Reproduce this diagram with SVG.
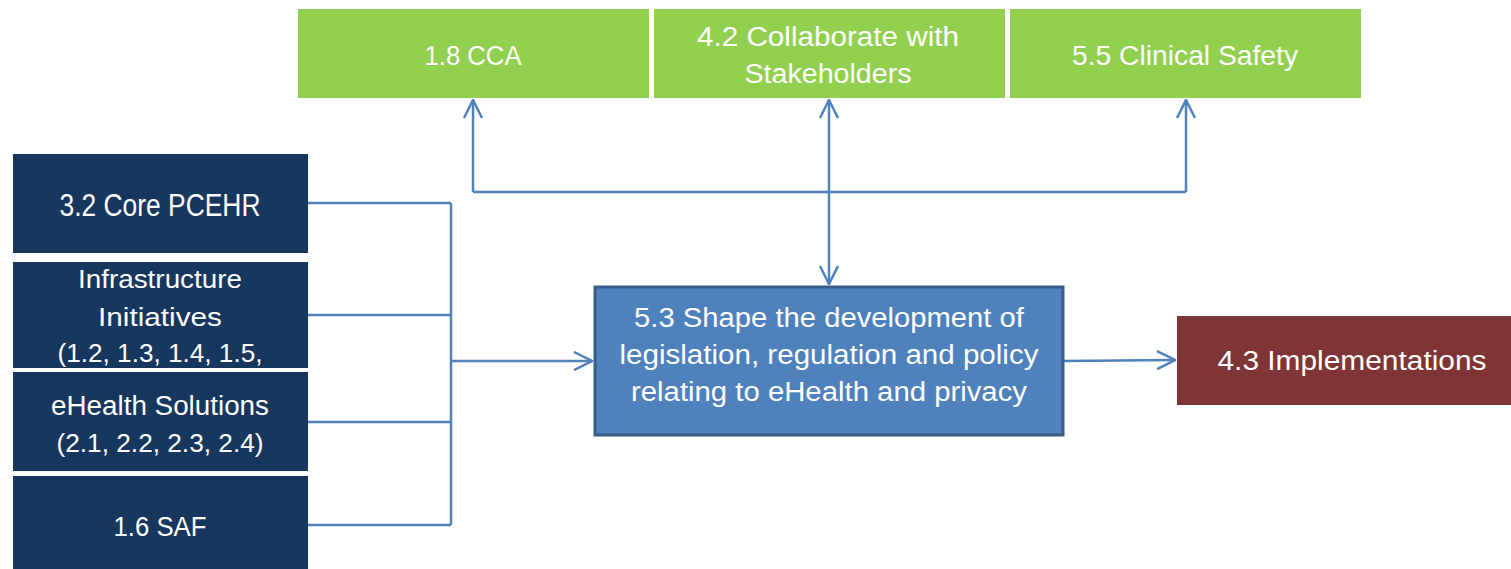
<svg xmlns="http://www.w3.org/2000/svg" width="1511" height="569" viewBox="0 0 1511 569">
<style>
.t{font-family:"Liberation Sans",Arial,sans-serif;fill:#ffffff;text-anchor:middle}
.g{fill:#92D050}
.n{fill:#17375E}
.c{fill:none;stroke:#4F81BD;stroke-width:2.5}
</style>
<defs>
<marker id="ah" viewBox="0 0 20 20" refX="19" refY="10" markerWidth="20" markerHeight="20" markerUnits="userSpaceOnUse" orient="auto-start-reverse">
<path d="M1,1 L19,10 L1,19" fill="none" stroke="#4F81BD" stroke-width="2.5"/>
</marker>
<clipPath id="clipInfra"><rect x="13" y="262" width="295" height="106"/></clipPath>
</defs>
<rect width="1511" height="569" fill="#ffffff"/>

<g id="connectors">
<path class="c" d="M308,203 H451 M308,315 H451 M308,422 H451 M308,525 H451 M451,203 V525"/>
<path class="c" d="M451,361 H592" marker-end="url(#ah)"/>
<path class="c" d="M473,192 H1186"/>
<path class="c" d="M473,192 V100" marker-end="url(#ah)"/>
<path class="c" d="M1186,192 V100" marker-end="url(#ah)"/>
<path class="c" d="M829,100 V284" marker-start="url(#ah)" marker-end="url(#ah)"/>
<path class="c" d="M1064,361 L1175,360" marker-end="url(#ah)"/>
</g>

<g id="cca">
<rect class="g" x="298" y="9" width="351" height="89"/>
<text class="t" x="473" y="65" font-size="27" textLength="97" lengthAdjust="spacingAndGlyphs">1.8 CCA</text>
</g>
<g id="collaborate">
<rect class="g" x="654" y="9" width="351" height="89"/>
<text class="t" x="828" y="46" font-size="27" textLength="262" lengthAdjust="spacingAndGlyphs">4.2 Collaborate with</text>
<text class="t" x="828" y="83" font-size="27" textLength="167" lengthAdjust="spacingAndGlyphs">Stakeholders</text>
</g>
<g id="safety">
<rect class="g" x="1010" y="9" width="351" height="89"/>
<text class="t" x="1185" y="65" font-size="27" textLength="226" lengthAdjust="spacingAndGlyphs">5.5 Clinical Safety</text>
</g>

<g id="core">
<rect class="n" x="13" y="154" width="295" height="99"/>
<text class="t" x="160" y="216" font-size="31" textLength="201" lengthAdjust="spacingAndGlyphs">3.2 Core PCEHR</text>
</g>
<g id="infra">
<rect class="n" x="13" y="262" width="295" height="106"/>
<g clip-path="url(#clipInfra)">
<text class="t" x="160" y="288" font-size="25" textLength="164" lengthAdjust="spacingAndGlyphs">Infrastructure</text>
<text class="t" x="160" y="326" font-size="25" textLength="124" lengthAdjust="spacingAndGlyphs">Initiatives</text>
<text class="t" x="160" y="362" font-size="25" textLength="205" lengthAdjust="spacingAndGlyphs">(1.2, 1.3, 1.4, 1.5,</text>
</g>
</g>
<g id="ehealth">
<rect class="n" x="13" y="372" width="295" height="99"/>
<text class="t" x="160" y="415" font-size="27" textLength="218" lengthAdjust="spacingAndGlyphs">eHealth Solutions</text>
<text class="t" x="160" y="452" font-size="25" textLength="207" lengthAdjust="spacingAndGlyphs">(2.1, 2.2, 2.3, 2.4)</text>
</g>
<g id="saf">
<rect class="n" x="13" y="476" width="295" height="93"/>
<text class="t" x="160" y="536" font-size="27" textLength="93" lengthAdjust="spacingAndGlyphs">1.6 SAF</text>
</g>

<g id="shape">
<rect x="595" y="287" width="468" height="148" fill="#4F81BD" stroke="#385D8A" stroke-width="3"/>
<text class="t" x="829" y="327" font-size="27" textLength="390" lengthAdjust="spacingAndGlyphs">5.3 Shape the development of</text>
<text class="t" x="829" y="364" font-size="27" textLength="419" lengthAdjust="spacingAndGlyphs">legislation, regulation and policy</text>
<text class="t" x="829" y="401" font-size="27" textLength="396" lengthAdjust="spacingAndGlyphs">relating to eHealth and privacy</text>
</g>
<g id="implementations">
<rect x="1177" y="316" width="334" height="89" fill="#7F3535"/>
<text class="t" x="1352" y="370" font-size="27" textLength="269" lengthAdjust="spacingAndGlyphs">4.3 Implementations</text>
</g>
</svg>
